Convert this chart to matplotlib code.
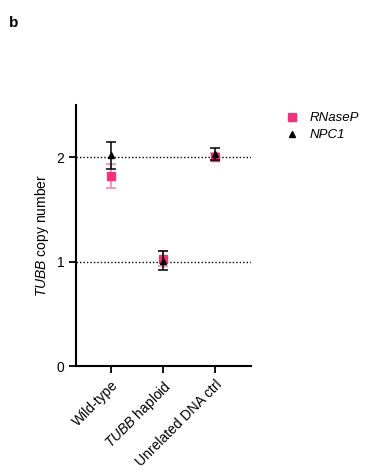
import numpy as np
import matplotlib
matplotlib.use("Agg")
import matplotlib.pyplot as plt

plt.rcParams['font.family'] = ['Liberation Sans', 'DejaVu Sans']
plt.rcParams['mathtext.fontset'] = 'custom'
plt.rcParams['mathtext.rm'] = 'Liberation Sans'
plt.rcParams['mathtext.it'] = 'Liberation Sans:italic'

# Data
categories = ['Wild-type', r'$\mathit{TUBB}$ haploid', 'Unrelated DNA ctrl']
rnasep_mean = [1.82, 1.03, 2.00]
rnasep_err = [0.115, 0.075, 0.04]
npc1_mean = [2.02, 1.01, 2.03]
npc1_err = [0.13, 0.09, 0.06]

pink = '#F5307C'

fig = plt.figure(figsize=(3.66, 4.73), dpi=100)
ax = fig.add_axes([0.208, 0.226, 0.478, 0.552])

x = np.arange(len(categories))

ax.axhline(1, color='black', ls=(0, (1, 1.5)), lw=1, zorder=1)
ax.axhline(2, color='black', ls=(0, (1, 1.5)), lw=1, zorder=1)

ax.errorbar(x, rnasep_mean, yerr=rnasep_err, fmt='s', color=pink, ms=5.5,
            ecolor='#F58AB0', elinewidth=1.2, capsize=3.5, capthick=1.2,
            label='RNaseP', zorder=3)
ax.errorbar(x, npc1_mean, yerr=npc1_err, fmt='^', color='black', ms=5,
            ecolor='black', elinewidth=1.1, capsize=3.5, capthick=1.1,
            label='NPC1', zorder=4)

ax.set_xlim(-0.68, 2.7)
ax.set_ylim(0, 2.5)
ax.set_yticks([0, 1, 2])
ax.set_xticks(x)
ax.set_xticklabels(categories, rotation=45, ha='right', rotation_mode='anchor',
                   fontsize=10)
ax.tick_params(axis='y', labelsize=10)
ax.tick_params(direction='out', length=5, width=1.3)
ax.set_ylabel(r'$\mathit{TUBB}$ copy number', fontsize=10)

for s in ['top', 'right']:
    ax.spines[s].set_visible(False)
for s in ['left', 'bottom']:
    ax.spines[s].set_linewidth(1.5)

# legend
h1 = plt.Line2D([], [], marker='s', color=pink, ls='none', ms=6)
h2 = plt.Line2D([], [], marker='^', color='black', ls='none', ms=5)
leg = fig.legend([h1, h2], ['RNaseP', 'NPC1'], loc='upper left',
                 bbox_to_anchor=(0.748, 0.788), frameon=False, fontsize=9.5,
                 handlelength=1, handletextpad=0.8, labelspacing=0.35)
for t in leg.get_texts():
    t.set_fontstyle('italic')

fig.text(0.025, 0.952, 'b', fontsize=11, fontweight='bold', va='center')

fig.savefig('out.png', dpi=100)
